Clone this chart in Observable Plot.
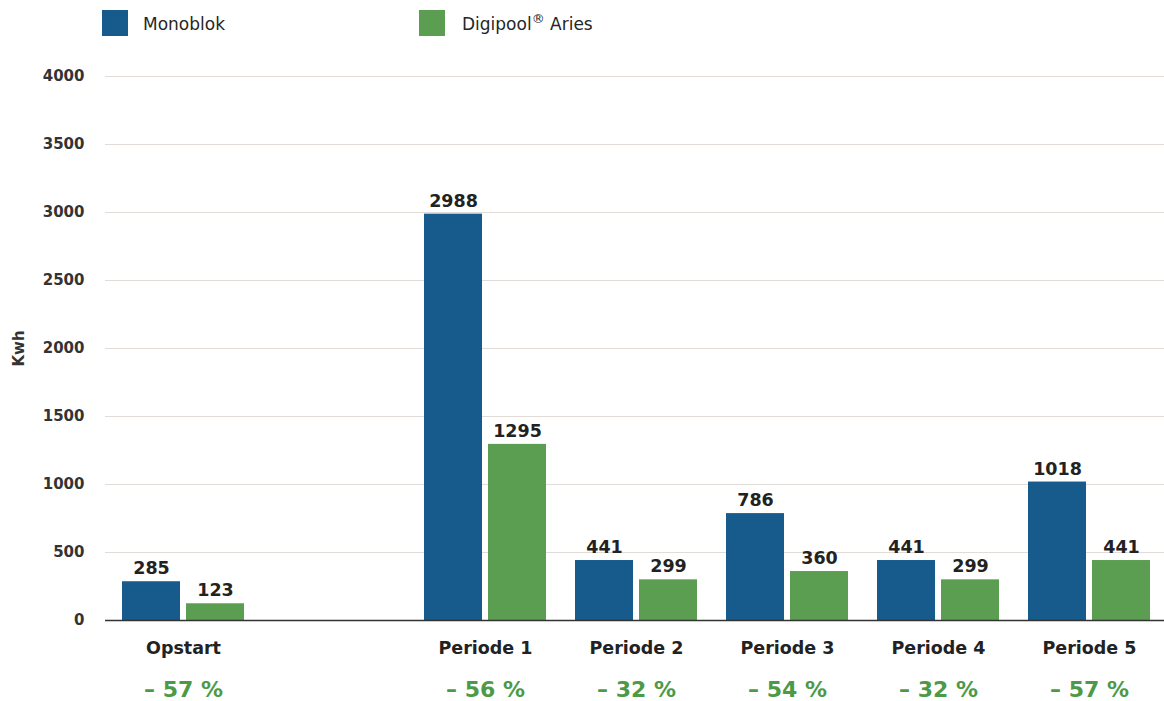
<!DOCTYPE html>
<html>
<head>
<meta charset="utf-8">
<script src="https://cdn.jsdelivr.net/npm/d3@7"></script>
<script src="https://cdn.jsdelivr.net/npm/@observablehq/plot@0.6"></script>
<style>
  body { margin: 0; background: #fff; font-family: "DejaVu Sans", sans-serif; overflow: hidden; }
  #legend { position: relative; height: 36px; width: 1164px; }
  .sw { position: absolute; top: 10px; width: 26px; height: 26px; }
  .lt { position: absolute; top: 13px; font-size: 17px; color: #262626; line-height: 22px; }
  .lt sup { font-size: 13px; vertical-align: 7px; line-height: 0; }
</style>
</head>
<body>
<div id="legend"></div>
<div id="chart"></div>
<script>
const categories = ["Opstart", "Periode 1", "Periode 2", "Periode 3", "Periode 4", "Periode 5"];
const monoblok = [285, 2988, 441, 786, 441, 1018];
const digipool = [123, 1295, 299, 360, 299, 441];
const savings = ["– 57 %", "– 56 %", "– 32 %", "– 54 %", "– 32 %", "– 57 %"];
const yTicks = [0, 500, 1000, 1500, 2000, 2500, 3000, 3500, 4000];
const seriesNames = ["Monoblok", "Digipool® Aries"];
const colors = ["#175a8c", "#5b9e52"];

const xDomain = [categories[0], " ", ...categories.slice(1)];
const data = categories.map((c, i) => ({cat: c, mono: monoblok[i], digi: digipool[i], save: savings[i]}));

// Legend
const legend = document.getElementById("legend");
const legendPos = [{sw: 102, tx: 143}, {sw: 419, tx: 462}];
seriesNames.forEach((name, i) => {
  const sw = document.createElement("div");
  sw.className = "sw";
  sw.style.left = legendPos[i].sw + "px";
  sw.style.background = colors[i];
  legend.appendChild(sw);
  const t = document.createElement("div");
  t.className = "lt";
  t.style.left = legendPos[i].tx + "px";
  t.innerHTML = name.replace("®", "<sup>®</sup>");
  legend.appendChild(t);
});

const font = "DejaVu Sans";
const chart = Plot.plot({
  width: 1164,
  height: 665,
  marginTop: 40,
  marginBottom: 81,
  marginLeft: 105,
  marginRight: 0,
  style: {fontFamily: font, background: "#fff"},
  x: {domain: xDomain, range: [106, 1167], paddingInner: 0.19, paddingOuter: 0.095, axis: null},
  y: {domain: [0, 4000]},
  marks: [
    Plot.ruleY(yTicks.filter(t => t > 0), {stroke: "#e2dcd8", strokeWidth: 1.2}),
    Plot.axisY(yTicks, {tickSize: 0, tickPadding: 21, fontSize: 15, fontWeight: "bold", fill: "#333",
      label: "Kwh", labelAnchor: "center", labelArrow: false, labelOffset: 92, tickFormat: d => String(d)}),
    Plot.barY(data, {x: "cat", y: "mono", fill: colors[0], insetRight: 64}),
    Plot.barY(data, {x: "cat", y: "digi", fill: colors[1], insetLeft: 64}),
    Plot.ruleY([0], {stroke: "#333", strokeWidth: 1.6}),
    Plot.text(data, {x: "cat", y: "mono", text: d => String(d.mono), dx: -32, dy: -13,
      fontSize: 17.5, fontWeight: "bold", fill: "#222"}),
    Plot.text(data, {x: "cat", y: "digi", text: d => String(d.digi), dx: 32, dy: -13,
      fontSize: 17.5, fontWeight: "bold", fill: "#222"}),
    Plot.text(data, {x: "cat", y: 0, text: "cat", dy: 28, fontSize: 17.5, fontWeight: "bold", fill: "#222"}),
    Plot.text(data, {x: "cat", y: 0, text: "save", dy: 69, fontSize: 22, fontWeight: "bold", fill: "#4c9a47"})
  ]
});
document.getElementById("chart").appendChild(chart);
</script>
</body>
</html>
